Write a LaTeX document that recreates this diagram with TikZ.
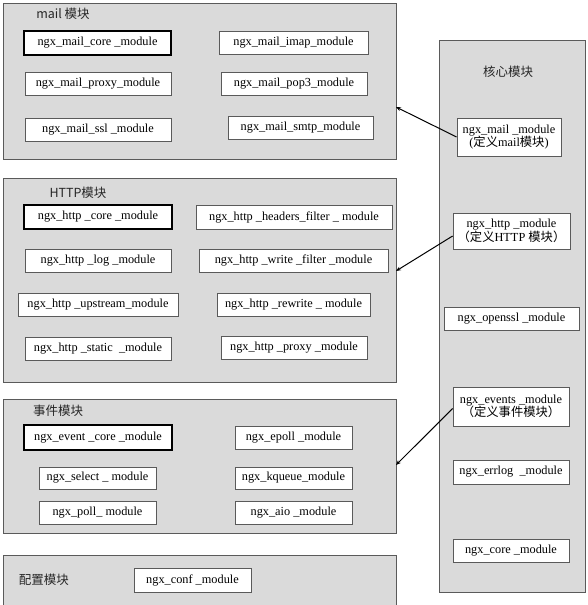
\documentclass[tikz,border=0pt]{standalone}
\usepackage{fontspec}
\setmainfont{Liberation Serif}
\newfontfamily\cjk{Noto Sans CJK SC}
\definecolor{panelgray}{HTML}{DADADA}
\definecolor{edgegray}{HTML}{5A5A5A}
\tikzset{
  panel/.style={draw=edgegray, fill=panelgray, line width=0.9pt, inner sep=0pt},
  title/.style={font=\fontsize{12.5}{14}\selectfont\cjk, text=black!85},
  mod/.style={draw=edgegray, fill=white, line width=0.8pt, inner sep=1pt,
    font=\fontsize{12.3}{13.5}\selectfont, align=center},
  coremod/.style={mod, draw=black, line width=2pt},
  link/.style={-{Stealth[length=5pt,width=4pt]}, line width=1pt}
}
\usetikzlibrary{arrows.meta}
\newcommand{\zh}[1]{{\cjk #1}}
\begin{document}
\begin{tikzpicture}[x=1pt, y=-1pt]
  \useasboundingbox (0,0) rectangle (588,605);
  % panels
  \node[panel, minimum width=393, minimum height=156] (mailp) at (199.5,81) {};
  \node[panel, minimum width=393, minimum height=204] (httpp) at (199.5,280) {};
  \node[panel, minimum width=393, minimum height=134] (eventp) at (199.5,466) {};
  \node[panel, minimum width=393, minimum height=53] (confp) at (199.5,581.5) {};
  \node[panel, minimum width=146, minimum height=552] (corep) at (512,316) {};
  % titles
  \node[title] (mailt) at (63,14) {mail 模块};
  \node[title] (httpt) at (78,193) {HTTP模块};
  \node[title] (eventt) at (58,411) {事件模块};
  \node[title] (conft) at (44,580) {配置模块};
  \node[title] (coret) at (508,72) {核心模块};
  % mail
  \node[coremod, minimum width=147, minimum height=24] (mcore) at (97.5,43) {ngx\_mail\_core \_module};
  \node[mod, minimum width=149, minimum height=23] (mimap) at (293.5,42.5) {ngx\_mail\_imap\_module};
  \node[mod, minimum width=146, minimum height=23] (mproxy) at (98,83.5) {ngx\_mail\_proxy\_module};
  \node[mod, minimum width=146, minimum height=23] (mpop) at (294,83.5) {ngx\_mail\_pop3\_module};
  \node[mod, minimum width=146, minimum height=23] (mssl) at (98,129.5) {ngx\_mail\_ssl \_module};
  \node[mod, minimum width=145, minimum height=23] (msmtp) at (300.5,127.5) {ngx\_mail\_smtp\_module};
  % http
  \node[coremod, minimum width=148, minimum height=24] (hcore) at (98,217) {ngx\_http \_core \_module};
  \node[mod, minimum width=196, minimum height=24] (hheaders) at (294,217) {ngx\_http \_headers\_filter \_ module};
  \node[mod, minimum width=146, minimum height=23] (hlog) at (98,260.5) {ngx\_http \_log \_module};
  \node[mod, minimum width=189, minimum height=23] (hwrite) at (293.5,260.5) {ngx\_http \_write \_filter \_module};
  \node[mod, minimum width=160, minimum height=23] (hupstream) at (98,304.5) {ngx\_http \_upstream\_module};
  \node[mod, minimum width=153, minimum height=23] (hrewrite) at (293.5,304.5) {ngx\_http \_rewrite \_ module};
  \node[mod, minimum width=146, minimum height=23] (hstatic) at (98,348.5) {ngx\_http \_static \ \_module};
  \node[mod, minimum width=146, minimum height=23] (hproxy) at (294,347.5) {ngx\_http \_proxy \_module};
  % event
  \node[coremod, minimum width=148, minimum height=25] (ecore) at (98,437.5) {ngx\_event \_core \_module};
  \node[mod, minimum width=117, minimum height=23] (eepoll) at (293.5,437.5) {ngx\_epoll \_module};
  \node[mod, minimum width=117, minimum height=22] (eselect) at (97.5,478) {ngx\_select \_ module};
  \node[mod, minimum width=117, minimum height=22] (ekqueue) at (293.5,478) {ngx\_kqueue\_module};
  \node[mod, minimum width=117, minimum height=23] (epoll) at (97.5,512.5) {ngx\_poll\_ module};
  \node[mod, minimum width=117, minimum height=23] (eaio) at (293.5,512.5) {ngx\_aio \_module};
  % conf
  \node[mod, minimum width=117, minimum height=24] (cconf) at (192.5,580) {ngx\_conf \_module};
  % core
  \node[mod, minimum width=104, minimum height=38] (cmail) at (509,137) {ngx\_mail \_module\\(\zh{定义}mail\zh{模块})};
  \node[mod, minimum width=117, minimum height=36] (chttp) at (511.5,231) {ngx\_http \_module\\\zh{（定义}HTTP \zh{模块）}};
  \node[mod, minimum width=135, minimum height=23] (copenssl) at (511.5,318.5) {ngx\_openssl \_module};
  \node[mod, minimum width=116, minimum height=39] (cevents) at (511,406.5) {ngx\_events \_module\\\zh{（定义事件模块）}};
  \node[mod, minimum width=116, minimum height=24] (cerrlog) at (511,472) {ngx\_errlog \ \_module};
  \node[mod, minimum width=116, minimum height=23] (ccore) at (511,550.5) {ngx\_core \_module};
  % links
  \coordinate (mailin) at (396,107);
  \coordinate (httpin) at (396,271);
  \coordinate (eventin) at (396,465);
  \begin{scope}[link]
    \draw (cmail.west) to (mailin);
    \draw ([yshift=-5pt]chttp.west) to (httpin);
    \draw ([yshift=-2pt]cevents.west) to (eventin);
  \end{scope}
\end{tikzpicture}
\end{document}
